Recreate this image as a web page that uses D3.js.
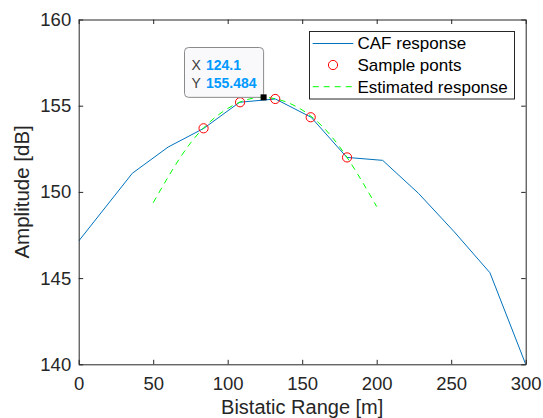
<!DOCTYPE html>
<html><head><meta charset="utf-8">
<script src="https://cdn.jsdelivr.net/npm/d3@7"></script>
<style>body{margin:0;background:#fff}svg{display:block}text{font-family:"Liberation Sans",Arial,sans-serif}</style>
</head><body><svg id="c" width="543" height="418"></svg>
<script>
// CAF response
const cafX = [0, 36, 60, 84, 108, 132, 156, 180, 204, 228, 252, 276, 300];
const cafY = [147.15, 151.08, 152.6, 153.69, 155.2, 155.39, 154.33, 152.0, 151.83, 149.92, 147.69, 145.31, 140.0];
// Sample points
const sampX = [83.8, 108.3, 131.9, 155.7, 180.1];
const sampY = [153.69, 155.2, 155.39, 154.33, 152.0];
// Estimated response
const estX = [50, 75, 100, 124.1, 150, 175, 200];
const estY = [149.37, 152.83, 154.84, 155.484, 154.75, 152.63, 149.15];
// Data tip
const tipX = 124.1, tipY = 155.484;
const xTicks = [0, 50, 100, 150, 200, 250, 300];
const yTicks = [140, 145, 150, 155, 160];
const legendLabels = ["CAF response", "Sample ponts", "Estimated response"];

const svg = d3.select("#c");
const L = 78.7, R = 525.7, T = 19.5, B = 364.3;
const x = d3.scaleLinear().domain([0, 300]).range([L, R]);
const y = d3.scaleLinear().domain([140, 160]).range([B, T]);
const axCol = "#262626";

svg.append("clipPath").attr("id", "clip").append("rect")
  .attr("x", L).attr("y", T).attr("width", R - L).attr("height", B - T);

const g = svg.append("g").attr("clip-path", "url(#clip)");

const caf = cafX.map((v, i) => [v, cafY[i]]);
g.append("path").datum(caf)
  .attr("d", d3.line().x(d => x(d[0])).y(d => y(d[1])))
  .attr("fill", "none").attr("stroke", "#0072BD").attr("stroke-width", 1);

const est = estX.map((v, i) => [v, estY[i]]);
g.append("path").datum(est)
  .attr("d", d3.line().curve(d3.curveNatural).x(d => x(d[0])).y(d => y(d[1])))
  .attr("fill", "none").attr("stroke", "#00FF00").attr("stroke-width", 1)
  .attr("stroke-dasharray", "6,5");

g.selectAll("circle.s").data(sampX.map((v, i) => [v, sampY[i]])).enter()
  .append("circle").attr("class", "s")
  .attr("cx", d => x(d[0])).attr("cy", d => y(d[1])).attr("r", 4.6)
  .attr("fill", "none").attr("stroke", "#FF0000").attr("stroke-width", 1);

const xAxB = d3.axisBottom(x).tickValues(xTicks).tickSizeInner(-4.5).tickSizeOuter(0).tickPadding(13);
const xAxT = d3.axisTop(x).tickValues(xTicks).tickSizeInner(-4.5).tickSizeOuter(0).tickFormat("");
const yAxL = d3.axisLeft(y).tickValues(yTicks).tickSizeInner(-4.5).tickSizeOuter(0).tickPadding(7.5);
const yAxR = d3.axisRight(y).tickValues(yTicks).tickSizeInner(-4.5).tickSizeOuter(0).tickFormat("");

function style(sel) {
  sel.selectAll("path").attr("stroke", axCol).attr("stroke-width", 1);
  sel.selectAll("line").attr("stroke", axCol).attr("stroke-width", 1);
  sel.selectAll("text").attr("fill", axCol).style("font-size", "18.5px").style("font-family", '"Liberation Sans",Arial,sans-serif');
}
style(svg.append("g").attr("transform", `translate(0,${B})`).call(xAxB));
style(svg.append("g").attr("transform", `translate(0,${T})`).call(xAxT));
style(svg.append("g").attr("transform", `translate(${L},0)`).call(yAxL));
style(svg.append("g").attr("transform", `translate(${R},0)`).call(yAxR));

svg.append("text").attr("x", (L + R) / 2).attr("y", 413.5).attr("text-anchor", "middle")
  .attr("fill", axCol).style("font-size", "20px").text("Bistatic Range [m]");
svg.append("text").attr("transform", `translate(29,${(T + B) / 2}) rotate(-90)`)
  .attr("text-anchor", "middle").attr("fill", axCol).style("font-size", "20.5px").text("Amplitude [dB]");

const lg = svg.append("g");
lg.append("rect").attr("x", 309.5).attr("y", 31.5).attr("width", 205).attr("height", 67.5)
  .attr("fill", "#fff").attr("stroke", axCol).attr("stroke-width", 1);
const rowY = [43.5, 65, 86.7];
lg.append("line").attr("x1", 312.7).attr("x2", 353.3).attr("y1", rowY[0]).attr("y2", rowY[0])
  .attr("stroke", "#0072BD").attr("stroke-width", 1);
lg.append("circle").attr("cx", 333).attr("cy", rowY[1]).attr("r", 4.6)
  .attr("fill", "none").attr("stroke", "#FF0000").attr("stroke-width", 1);
lg.append("line").attr("x1", 312.7).attr("x2", 353.3).attr("y1", rowY[2]).attr("y2", rowY[2])
  .attr("stroke", "#00FF00").attr("stroke-width", 1).attr("stroke-dasharray", "6,5");
legendLabels.forEach((t, i) => {
  lg.append("text").attr("x", 357.5).attr("y", rowY[i]).attr("dy", "0.35em")
    .attr("fill", "#000").style("font-size", "17px").text(t);
});

const px = x(tipX), py = y(tipY);
const tip = svg.append("g");
tip.append("rect").attr("x", 184.5).attr("y", 47.5).attr("width", px - 184.5).attr("height", py - 47.5)
  .attr("rx", 4).attr("fill", "#f9f9fc").attr("stroke", "#8a8a8a").attr("stroke-width", 1);
[["X", "124.1", 65.3], ["Y", "155.484", 83]].forEach(r => {
  const t = tip.append("text").attr("x", 191.5).attr("y", r[2]).attr("dy", "0.35em").style("font-size", "14px");
  t.append("tspan").attr("fill", "#404040").text(r[0]);
  t.append("tspan").attr("x", 206).attr("fill", "#0099FF").style("font-weight", "bold").text(r[1]);
});
tip.append("rect").attr("x", px - 3).attr("y", py - 3).attr("width", 6).attr("height", 6)
  .attr("fill", "#000");
</script></body></html>
